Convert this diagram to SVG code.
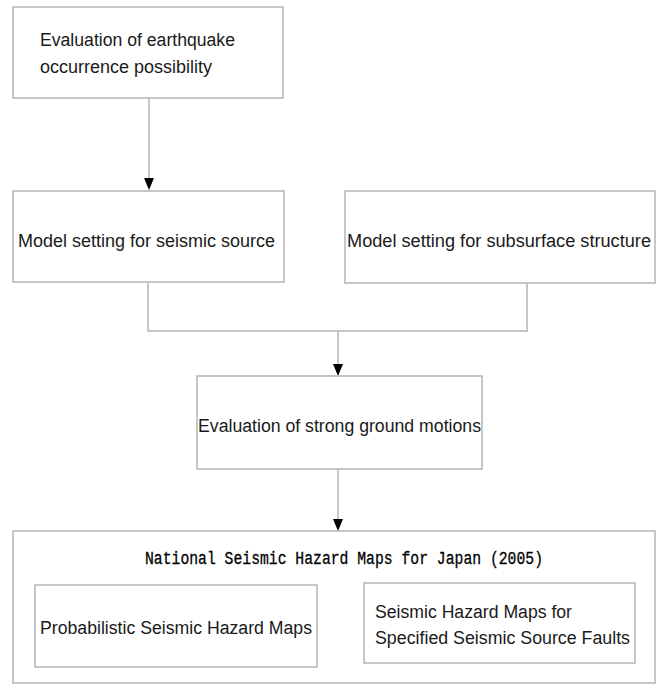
<svg xmlns="http://www.w3.org/2000/svg" width="656" height="684" viewBox="0 0 656 684">
<style>
.box{fill:#fff;stroke:#b4b4b4;stroke-width:1.5}
.t{font-family:"Liberation Sans",Arial,sans-serif;font-size:18px;fill:#1a1a1a}
.m{font-family:"Liberation Mono","DejaVu Sans Mono",monospace;font-size:18px;fill:#000;stroke:#000;stroke-width:0.3}
.c{fill:none;stroke:#b4b4b4;stroke-width:1.5}
.a{fill:#000}
</style>
<rect width="656" height="684" fill="#fff"/>
<g id="connectors">
<path class="c" d="M149,98 V178"/>
<path class="a" d="M144,178 L154,178 L149,190 Z"/>
<path class="c" d="M148,283 V331 H527 V283"/>
<path class="c" d="M338,331 V364"/>
<path class="a" d="M333,364 L343,364 L338,376 Z"/>
<path class="c" d="M338,469 V519"/>
<path class="a" d="M333,519 L343,519 L338,531 Z"/>
</g>
<g id="n1">
<rect class="box" x="13" y="7" width="270" height="91"/>
<text class="t" x="40" y="46" textLength="195" lengthAdjust="spacingAndGlyphs">Evaluation of earthquake</text>
<text class="t" x="40" y="73" textLength="172" lengthAdjust="spacingAndGlyphs">occurrence possibility</text>
</g>
<g id="n2">
<rect class="box" x="13" y="191" width="271" height="91"/>
<text class="t" x="18" y="247" textLength="257" lengthAdjust="spacingAndGlyphs">Model setting for seismic source</text>
</g>
<g id="n3">
<rect class="box" x="345" y="191" width="310" height="92"/>
<text class="t" x="347" y="247" textLength="304" lengthAdjust="spacingAndGlyphs">Model setting for subsurface structure</text>
</g>
<g id="n4">
<rect class="box" x="197" y="376" width="285" height="93"/>
<text class="t" x="198" y="432" textLength="283" lengthAdjust="spacingAndGlyphs">Evaluation of strong ground motions</text>
</g>
<g id="n5">
<rect class="box" x="13" y="531" width="642" height="152"/>
<text class="m" x="145" y="564" textLength="398" lengthAdjust="spacingAndGlyphs">National Seismic Hazard Maps for Japan (2005)</text>
</g>
<g id="n6">
<rect class="box" x="35" y="585" width="282" height="82"/>
<text class="t" x="40" y="634" textLength="272" lengthAdjust="spacingAndGlyphs">Probabilistic Seismic Hazard Maps</text>
</g>
<g id="n7">
<rect class="box" x="364" y="583" width="271" height="80"/>
<text class="t" x="375" y="618" textLength="197" lengthAdjust="spacingAndGlyphs">Seismic Hazard Maps for</text>
<text class="t" x="375" y="644" textLength="255" lengthAdjust="spacingAndGlyphs">Specified Seismic Source Faults</text>
</g>
</svg>
